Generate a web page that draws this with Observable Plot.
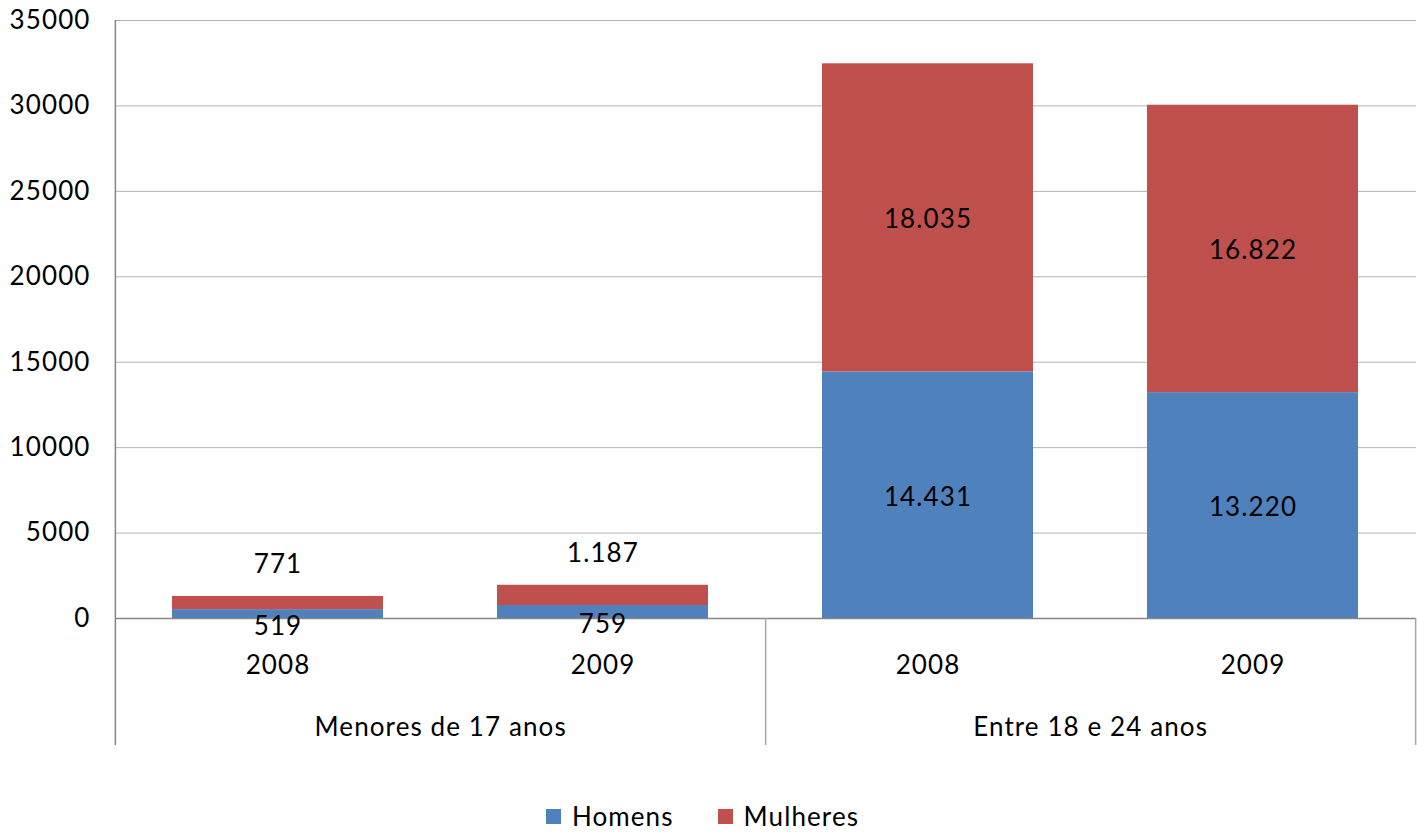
<!DOCTYPE html>
<html>
<head>
<meta charset="utf-8">
<script src="https://cdn.jsdelivr.net/npm/d3@7"></script>
<script src="https://cdn.jsdelivr.net/npm/@observablehq/plot@0.6"></script>
<style>
  html, body { margin: 0; padding: 0; background: #fff; }
  body { width: 1417px; height: 832px; overflow: hidden; font-family: Lato, "Liberation Sans", sans-serif; }
  #chart svg { display: block; }
  .legend { position: absolute; top: 800px; left: -6px; width: 1417px; display: flex; justify-content: center; font-size: 26px; letter-spacing: 1.1px; color: #000; }
  .legend .item { display: flex; align-items: center; }
  .legend .sw { width: 15px; height: 15px; display: inline-block; margin-right: 11px; }
  .legend .item + .item { margin-left: 44px; }
</style>
</head>
<body>
<div id="chart"></div>
<div class="legend" id="legend"></div>
<script>
// ---- data ----
const groups = ["Menores de 17 anos", "Entre 18 e 24 anos"];
const years = ["2008", "2009"];
const homens = [519, 759, 14431, 13220];     // by group then year
const mulheres = [771, 1187, 18035, 16822];
const series = ["Homens", "Mulheres"];
const colors = ["#4F81BD", "#C0504D"];
const yTicks = [0, 5000, 10000, 15000, 20000, 25000, 30000, 35000];

// ---- build table ----
const keys = [];
groups.forEach(g => years.forEach(y => keys.push(g + "|" + y)));
const rows = [];
keys.forEach((k, i) => {
  rows.push({key: k, serie: "Homens", value: homens[i]});
  rows.push({key: k, serie: "Mulheres", value: mulheres[i]});
});
const ptBR = d3.formatLocale({decimal: ",", thousands: ".", grouping: [3], currency: ["", ""]});
const fmt = ptBR.format(",");

const W = 1417, H = 790, ML = 115, MR = 1, MT = 20, MB = 172;
const step = (W - ML - MR) / keys.length;
const FONT = 26;
const smallLimit = 3000;

const chart = Plot.plot({
  width: W, height: H,
  marginLeft: ML, marginRight: MR, marginTop: MT, marginBottom: MB,
  style: {fontFamily: "Lato, 'Liberation Sans', sans-serif", fontSize: FONT + "px", color: "#000", background: "#fff", letterSpacing: "1.1px"},
  x: {domain: keys, paddingInner: 0.35, paddingOuter: 0.175, axis: null},
  y: {domain: [0, 35000], axis: null},
  color: {domain: series, range: colors},
  marks: [
    Plot.gridY(yTicks, {stroke: "#b3b3b3", strokeOpacity: 1, strokeWidth: 1}),
    Plot.axisY(yTicks, {tickSize: 0, tickPadding: 25, fontSize: FONT, label: null, tickFormat: d => String(d)}),
    Plot.barY(rows, {x: "key", y: "value", fill: "serie", order: series}),
    Plot.ruleY([0], {stroke: "#868686", strokeWidth: 1.5}),
    // vertical axis line (extends through the category area)
    Plot.ruleX([keys[0]], {x: d => d, dx: -step / 2, stroke: "#868686", strokeWidth: 1.5, insetBottom: -127}),
    // group separators below the plot
    Plot.ruleX([keys[1], keys[3]], {x: d => d, dx: step / 2, stroke: "#a6a6a6", strokeWidth: 1.5, insetTop: 598, insetBottom: -127}),
    // year labels
    Plot.axisX(keys, {x: d => d, tickSize: 0, tickPadding: 37, fontSize: FONT, label: null, tickFormat: d => d.split("|")[1]}),
    // group labels
    Plot.text([keys[0], keys[2]], {x: d => d, dx: step / 2, frameAnchor: "bottom", dy: 109, text: d => d.split("|")[0], fontSize: FONT, lineAnchor: "middle"}),
    // big segment labels at segment middle
    Plot.text(rows, Plot.stackY({x: "key", y: "value", z: "serie", order: series, text: d => d.value >= smallLimit ? fmt(d.value) : "", fontSize: FONT, fill: "#000", dy: 2})),
    // small Homens labels: just below middle
    Plot.text(rows, Plot.stackY({x: "key", y: "value", z: "serie", order: series, text: d => d.value < smallLimit && d.serie === "Homens" ? fmt(d.value) : "", fontSize: FONT, fill: "#000", dy: 13})),
    // small Mulheres labels: above the stack
    Plot.text(rows, Plot.stackY2({x: "key", y: "value", z: "serie", order: series, text: d => d.value < smallLimit && d.serie === "Mulheres" ? fmt(d.value) : "", fontSize: FONT, fill: "#000", dy: -32}))
  ]
});
document.getElementById("chart").appendChild(chart);

const legend = document.getElementById("legend");
series.forEach((s, i) => {
  const item = document.createElement("span");
  item.className = "item";
  item.innerHTML = `<span class="sw" style="background:${colors[i]}"></span><span>${s}</span>`;
  legend.appendChild(item);
});
</script>
</body>
</html>
